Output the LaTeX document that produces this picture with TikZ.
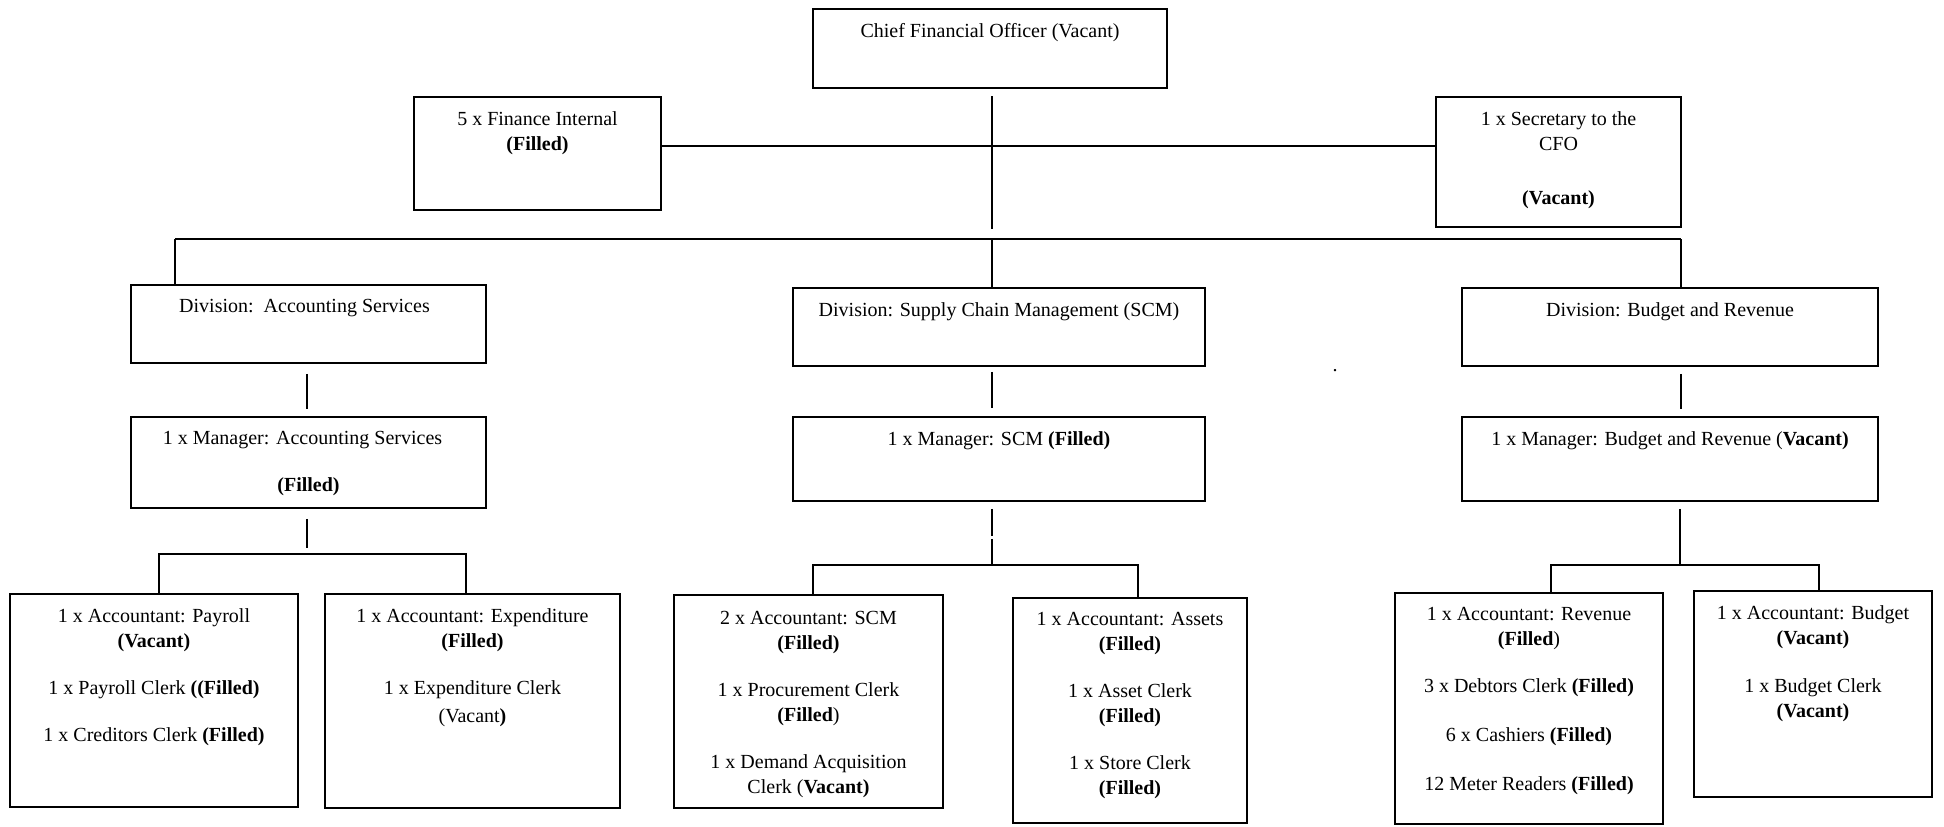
\documentclass[tikz,border=0pt]{standalone}
\usepackage{fontspec}
\setmainfont{Liberation Serif}
\usetikzlibrary{positioning}

\begin{document}
\begin{tikzpicture}[x=0.5pt,y=-0.5pt,
box/.style={draw,line width=0.9pt,inner sep=0pt},
txt/.style={align=center,inner sep=0pt,font=\fontsize{10}{12.5}\selectfont},
link/.style={line width=0.8pt}
]
\useasboundingbox (0,0) rectangle (1944,826);

% top level
\node[box,minimum width=177pt,minimum height=39.5pt] (cfo) at (990,48.5) {};
\node[txt,below=7.5pt of cfo.north] (cfo-t) {Chief Financial Officer (Vacant)};
\node[box,minimum width=123.5pt,minimum height=56.5pt] (fin) at (537.5,153.5) {};
\node[txt,below=7.5pt of fin.north] (fin-t) {5 x Finance Internal\\\textbf{(Filled)}};
\node[box,minimum width=122.5pt,minimum height=65pt] (sec) at (1558.5,162) {};
\node[txt,below=7.5pt of sec.north] (sec-t) {1 x Secretary to the\\CFO\\[14.5pt]\textbf{(Vacant)}};

% divisions
\node[box,minimum width=177.5pt,minimum height=39pt] (divA) at (308.5,324) {};
\node[txt,below=7.5pt of divA.north,xshift=-2pt] (divA-t) {Division:\ \ Accounting Services};
\node[box,minimum width=206pt,minimum height=39pt] (divS) at (999,327) {};
\node[txt,below=7.5pt of divS.north] (divS-t) {Division: Supply Chain Management (SCM)};
\node[box,minimum width=208pt,minimum height=39pt] (divB) at (1670,327) {};
\node[txt,below=7.5pt of divB.north] (divB-t) {Division: Budget and Revenue};
\node[txt] (dot) at (1335,371) {.};

% managers
\node[box,minimum width=177.5pt,minimum height=45.5pt] (mgrA) at (308.5,462.5) {};
\node[txt,below=7.5pt of mgrA.north,xshift=-3pt] (mgrA-t) {1 x Manager: Accounting Services\\[11pt]\hspace*{6pt}\textbf{(Filled)}};
\node[box,minimum width=206pt,minimum height=42pt] (mgrS) at (999,459) {};
\node[txt,below=7.5pt of mgrS.north] (mgrS-t) {1 x Manager: SCM \textbf{(Filled)}};
\node[box,minimum width=208pt,minimum height=42pt] (mgrB) at (1670,459) {};
\node[txt,below=7.5pt of mgrB.north] (mgrB-t) {1 x Manager: Budget and Revenue (\textbf{Vacant)}};

% posts
\node[box,minimum width=144pt,minimum height=106.5pt] (pay) at (154,700.5) {};
\node[txt,below=7.5pt of pay.north] (pay-t) {1 x Accountant: Payroll\\\textbf{(Vacant)}\\[11pt]1 x Payroll Clerk \textbf{((Filled)}\\[11pt]1 x Creditors Clerk \textbf{(Filled)}};
\node[box,minimum width=147.5pt,minimum height=107pt] (exp) at (472.5,701) {};
\node[txt,below=7.5pt of exp.north] (exp-t) {1 x Accountant: Expenditure\\\textbf{(Filled)}\\[11pt]1 x Expenditure Clerk\\[1.5pt](Vacant\textbf{)}};
\node[box,minimum width=134.5pt,minimum height=106.5pt] (acs) at (808.5,701.5) {};
\node[txt,below=8.5pt of acs.north] (acs-t) {2 x Accountant: SCM\\\textbf{(Filled)}\\[11pt]1 x Procurement Clerk\\\textbf{(Filled})\\[11pt]1 x Demand Acquisition\\Clerk (\textbf{Vacant)}};
\node[box,minimum width=117pt,minimum height=112.5pt] (ast) at (1130,710.5) {};
\node[txt,below=7.5pt of ast.north] (ast-t) {1 x Accountant: Assets\\\textbf{(Filled)}\\[11pt]1 x Asset Clerk\\\textbf{(Filled)}\\[11pt]1 x Store Clerk\\\textbf{(Filled)}};
\node[box,minimum width=134pt,minimum height=115.5pt] (rev) at (1529,708.5) {};
\node[txt,below=7.5pt of rev.north] (rev-t) {1 x Accountant: Revenue\\\textbf{(Filled})\\[11pt]3 x Debtors Clerk \textbf{(Filled)}\\[12pt]6 x Cashiers \textbf{(Filled)}\\[12pt]12 Meter Readers \textbf{(Filled)}};
\node[box,minimum width=119pt,minimum height=103pt] (bud) at (1813,694) {};
\node[txt,below=7.5pt of bud.north] (bud-t) {1 x Accountant: Budget\\\textbf{(Vacant)}\\[11.5pt]1 x Budget Clerk\\\textbf{(Vacant)}};

% connectors
\coordinate (busL) at (175,239);
\coordinate (busM) at (992,239);
\coordinate (busR) at (1681,239);
\draw[link] ([yshift=3.75pt]fin.east) -- ([yshift=3.75pt]fin.east -| sec.west);
\draw[link] (busM |- fin.north) -- ([yshift=5pt]busM);
\draw[link] (busL) -- (busR);
\draw[link] (busL) -- (busL |- divA.north);
\draw[link] (busM) -- (busM |- divS.north);
\draw[link] (busR) -- (busR |- divB.north);

\coordinate (accbus) at (307,554);
\coordinate (scmbus) at (992,565);
\coordinate (budbus) at (1680,565);
\draw[link,shorten <=5pt,shorten >=3.5pt] (accbus |- divA.south) -- (accbus |- mgrA.north);
\draw[link,shorten <=2.5pt,shorten >=4pt] (busM |- divS.south) -- (busM |- mgrS.north);
\draw[link,shorten <=3.5pt,shorten >=3.5pt] (busR |- divB.south) -- (busR |- mgrB.north);

\draw[link] ([yshift=-5pt]mgrA.south -| accbus) -- ([yshift=3pt]accbus);
\draw[link] ([xshift=2.5pt]pay.north) |- (accbus) -| ([xshift=-3.25pt]exp.north);
\draw[link] ([yshift=-3.5pt]mgrS.south -| scmbus) -- ++(0,-13.5pt) ++(0,-1.5pt) -- (scmbus);
\draw[link] ([xshift=2.25pt]acs.north) |- (scmbus) -| ([xshift=4pt]ast.north);
\draw[link] ([yshift=-3.5pt]mgrB.south -| budbus) -- (budbus);
\draw[link] ([xshift=11pt]rev.north) |- (budbus) -| ([xshift=3pt]bud.north);
\end{tikzpicture}
\end{document}
